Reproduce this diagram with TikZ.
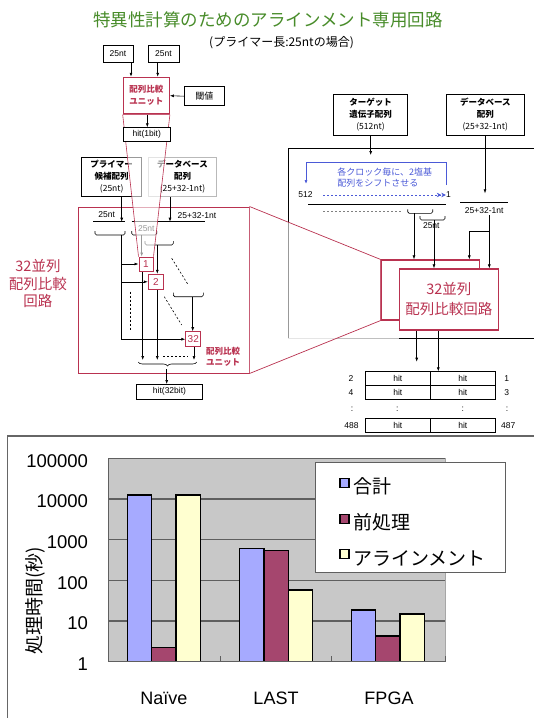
\documentclass[tikz,border=0pt]{standalone}
\usepackage{fontspec}
\setmainfont{Liberation Sans}
\newfontfamily\jp{Noto Sans CJK JP}
\usetikzlibrary{arrows.meta,decorations.pathreplacing,calc}
\definecolor{ttl}{RGB}{72,140,42}
\definecolor{rd}{RGB}{185,50,80}
\definecolor{bl}{RGB}{75,90,215}
\definecolor{barB}{RGB}{166,170,255}
\definecolor{barM}{RGB}{165,70,110}
\definecolor{barY}{RGB}{255,255,208}
\definecolor{plotbg}{RGB}{200,200,200}
\definecolor{grid}{RGB}{95,95,95}
\newcommand\fsz[2]{\fontsize{#1}{#2}\selectfont}
\newcommand\ubrk[3]{\draw[line width=0.6pt,rounded corners=1.5pt] (#1,#3-4) -- (#1,#3) -- (#2,#3) -- (#2,#3-4);}
\tikzset{
  arr/.style={-{Latex[length=4pt,width=3pt]}, line width=0.6pt},
  bx/.style={draw, line width=0.7pt, inner sep=0pt, align=center, fill=white, font=\jp\fsz{8.5}{12}},
  rbx/.style={draw=rd, line width=1pt, inner sep=0pt, fill=white, text=rd, font=\fsz{10}{11}},
  lbl/.style={inner sep=0pt, font=\fsz{8.5}{10}},
  dsh/.style={line width=0.6pt, dash pattern=on 2pt off 2pt},
  bar/.style={draw=black, line width=1.3pt},
  tick/.style={anchor=east, inner sep=0pt, font=\fsz{18.5}{20}},
}
\begin{document}
\begin{tikzpicture}[x=1pt,y=-1pt, line width=0.6pt]
\useasboundingbox (0,0) rectangle (534,718);

% ---------- title ----------
\node[inner sep=0pt, font=\jp\fsz{17.5}{20}, text=ttl] (title) at (268,20) {特異性計算のためのアラインメント専用回路};
\node[inner sep=0pt, font=\jp\fsz{12}{13}] (sub) at (281.5,43) {(プライマー長:25ntの場合)};

% ---------- left diagram, base layer ----------
\node[bx, minimum width=30pt, minimum height=17pt, font=\fsz{8.5}{10}] (a25) at (118,53.5) {25nt};
\node[bx, minimum width=31pt, minimum height=17pt, font=\fsz{8.5}{10}] (b25) at (163.5,53.5) {25nt};
\node[bx, minimum width=40pt, minimum height=19pt, font=\jp\fsz{9}{11}] (thr) at (204.3,96.2) {閾値};

\node[bx, minimum width=60pt, minimum height=39.4pt] (prim) at (111.7,177) {{\bfseries プライマー}\\{\bfseries 候補配列}\\(25nt)};
\node[bx, draw=gray!55, minimum width=68.4pt, minimum height=39.4pt] (dbl) at (182.5,177) {{\bfseries データベース}\\{\bfseries 配列}\\(25+32-1nt)};

\node[draw=rd, line width=1pt, minimum width=171pt, minimum height=166pt, inner sep=0pt] (bigL) at (163.5,290) {};

\coordinate (pl) at (121.7,221.7);
\coordinate (dl) at (170,221.7);
\draw[arr] (prim.south -| pl) -- (pl);
\draw[arr] (dbl.south -| dl) -- (dl);
\draw (93.3,221.7) -- (125,221.7);
\draw (131.7,221.7) -- (205,221.7);
\node[lbl] (l25a) at (106.7,215) {25nt};
\node[lbl] (l25b) at (197,215.5) {25+32-1nt};

\ubrk{95}{125}{235}
\ubrk{131.7}{156.7}{235}
\node[lbl] (l25c) at (146.3,228.5) {25nt};
\ubrk{145}{173.3}{245}
\ubrk{173.3}{203.3}{296.7}

\node[rbx, minimum width=14pt, minimum height=14pt] (b1) at (146,264) {1};
\node[rbx, minimum width=15pt, minimum height=15pt] (b2) at (155.8,281.8) {2};
\node[rbx, minimum width=15pt, minimum height=15pt] (b32) at (193.3,339.2) {32};

\coordinate (pb) at (121.7,235);
\coordinate (k2) at (141.7,235);
\coordinate (k3) at (157.3,245);
\coordinate (k4) at (192.7,296.7);
\draw[arr] (pb) |- (b32.west);
\draw[arr] (b1.west -| pb) -- (b1.west);
\draw[arr] (b2.west -| pb) -- (b2.west);
\draw[arr] (k2) -- (k2 |- b1.north);
\draw[arr] (k3) -- (k3 |- b2.north);
\draw[arr] (k4) -- (k4 |- b32.north);
\draw[dsh] (171.7,258.3) -- (188.3,285);
\draw[dsh] (164.3,296.7) -- (181.7,325);
\draw[dsh] (130,291.7) -- (130,330);

\coordinate (ob) at (0,360);
\coordinate (o1) at (142.7,0);
\coordinate (o2) at (157.3,0);
\coordinate (o3) at (194,0);
\draw[arr] (o1 |- b1.south) -- (o1 |- ob);
\draw[arr] (o2 |- b2.south) -- (o2 |- ob);
\draw[arr] (o3 |- b32.south) -- (o3 |- ob);
\draw[dsh] (163,356.7) -- (188,356.7);
\draw[decorate, decoration={brace, mirror, amplitude=4pt}] (138.3,362) -- (196.7,362);
\node[bx, minimum width=65.6pt, minimum height=14.7pt, font=\fsz{8.5}{10}] (h32) at (169.5,391.7) {hit(32bit)};
\coordinate (bt) at (166.7,369);
\draw[arr] (bt) -- (bt |- h32.north);

\node[inner sep=0pt, align=center, text=rd, font=\jp\bfseries\fsz{8.5}{11}] (ulbl) at (223,357) {配列比較\\ユニット};
\node[inner sep=0pt, align=center, text=rd, font=\jp\fsz{14.5}{17.5}] (llbl) at (38,283.5) {32並列\\配列比較\\回路};

% ---------- right diagram, base layer ----------
\node[bx, minimum width=74.4pt, minimum height=40.7pt] (tgt) at (370.5,114.7) {{\bfseries ターゲット}\\{\bfseries 遺伝子配列}\\(512nt)};
\node[bx, minimum width=77.3pt, minimum height=40.7pt] (dbr) at (485.3,114.7) {{\bfseries データベース}\\{\bfseries 配列}\\(25+32-1nt)};

\draw[line width=0.8pt] (540,148) -- (288.3,148) -- (288.3,338.3);
\draw[line width=0.8pt, gray!50] (288.3,338.3) -- (399,338.3);
\draw[line width=0.8pt] (399,338.3) -- (540,338.3);

\coordinate (ta) at (370.7,155);
\draw[arr] (tgt.south -| ta) -- (ta);
\draw[bl, line width=0.7pt, -{Latex[length=4pt,width=3pt]}] (446.7,185) -- (446.7,162.3) -- (306,162.3) -- (306,184);
\node[inner sep=0pt, align=left, text=bl, font=\jp\fsz{9}{10.5}, anchor=west] (shift) at (337,177.5) {各クロック毎に、2塩基\\配列をシフトさせる};
\node[lbl] (n512) at (305.5,195) {512};
\node[lbl] (n1) at (448.5,195) {1};
\draw[bl, dsh, -{Stealth[length=4.5pt,width=4.5pt]Stealth[length=4.5pt,width=4.5pt]}] (323,195) -- (n1.west);
\draw (308,204) -- (445.7,204);
\draw[dsh, gray] (323,211) -- (401.7,211);
\ubrk{407.7}{432.7}{213.3}
\ubrk{420}{445}{220}
\node[lbl] (l25d) at (431.3,226) {25nt};

\coordinate (da) at (485,193.3);
\draw[arr] (dbr.south -| da) -- (da);
\draw (460,202.7) -- (508.3,202.7);
\node[lbl] (l25e) at (484.2,211) {25+32-1nt};

% ---------- translucent zoom overlays ----------
\node[draw=rd, line width=1.2pt, minimum width=98.3pt, minimum height=60pt, inner sep=0pt] (back) at (430.2,290) {};
\fill[white, opacity=0.6] (bigL.north east) -- (back.north west) -- (back.south west) -- (bigL.south east) -- cycle;
\draw[rd, line width=0.7pt] (bigL.north east) -- (back.north west);
\draw[rd, line width=0.7pt] (bigL.south east) -- (back.south west);

\node[draw=rd, line width=1.2pt, fill=white, minimum width=46pt, minimum height=36.7pt, inner sep=0pt, align=center, text=rd, font=\jp\bfseries\fsz{8.5}{12}] (unit) at (146.3,95.7) {配列比較\\ユニット};
\fill[white, opacity=0.6] (unit.south west) -- (unit.south east) -- (b1.north east) -- (b1.north west) -- cycle;
\draw[rd, line width=0.6pt] (unit.south west) -- (b1.north west);
\draw[rd, line width=0.6pt] (unit.south east) -- (b1.north east);
\node[rbx, minimum width=14pt, minimum height=14pt] at (b1) {1};
\node[bx, minimum width=46.7pt, minimum height=13.3pt, font=\fsz{8.5}{10}] (h1) at (146.7,134.3) {hit(1bit)};

\coordinate (ua) at (131,0);
\coordinate (ub) at (157.7,0);
\coordinate (uc) at (147.3,0);
\draw[arr] (ua |- a25.south) -- (ua |- unit.north);
\draw[arr] (ub |- b25.south) -- (ub |- unit.north);
\draw[arr] (thr.west) -- (unit.east);
\draw[arr] (uc |- unit.south) -- (uc |- h1.north);

% right: front box and connections
\node[draw=rd, line width=1.2pt, fill=white, minimum width=99pt, minimum height=61pt, inner sep=0pt, align=center, text=rd, font=\jp\fsz{14.5}{20}] (front) at (448.8,299.5) {32並列\\配列比較回路};

\coordinate (ra) at (414,213.3);
\coordinate (rb) at (434,220);
\coordinate (rc) at (489.3,215);
\coordinate (rd1) at (469.3,231.7);
\draw[arr] (ra) -- (ra |- back.north);
\draw[arr] (rb) -- (rb |- front.north);
\draw[arr] (rc) -- (rc |- front.north);
\draw[arr] (rc |- rd1) -- (rd1) -- (rd1 |- back.north);

\node[bx, minimum width=65.7pt, minimum height=13.3pt, font=\fsz{8.5}{10}] (h11) at (397.85,378.35) {hit};
\node[bx, minimum width=64.3pt, minimum height=13.3pt, font=\fsz{8.5}{10}] (h12) at (462.85,378.35) {hit};
\node[bx, minimum width=65.7pt, minimum height=14pt, font=\fsz{8.5}{10}] (h21) at (397.85,392) {hit};
\node[bx, minimum width=64.3pt, minimum height=14pt, font=\fsz{8.5}{10}] (h22) at (462.85,392) {hit};
\node[bx, minimum width=65.7pt, minimum height=14.4pt, font=\fsz{8.5}{10}] (h41) at (397.85,425.5) {hit};
\node[bx, minimum width=64.3pt, minimum height=14.4pt, font=\fsz{8.5}{10}] (h42) at (462.85,425.5) {hit};
\coordinate (fa) at (416.7,361.7);
\coordinate (fb) at (438.3,0);
\draw[arr] (fa |- front.south) -- (fa);
\draw[arr] (fb |- front.south) -- (fb |- h12.north);
\node[lbl] (r2) at (351,378.3) {2};
\node[lbl] (r4) at (351,392.7) {4};
\node[lbl] (rd) at (352,409) {:};
\node[lbl] (r488) at (351.5,426) {488};
\node[lbl] (r1) at (506.7,378.3) {1};
\node[lbl] (r3) at (506.7,392.7) {3};
\node[lbl] (rdr) at (507,409) {:};
\node[lbl] (r487) at (508.3,426) {487};
\node[lbl] (cd1) at (397.3,409) {:};
\node[lbl] (cd2) at (462.7,409) {:};

% ---------- chart ----------
\draw[line width=1.3pt, gray!80!black] (540,436) -- (7.3,436) -- (7.3,725);
\fill[plotbg] (108.3,458.3) rectangle (445,661.7);
\foreach \yy in {621.0,580.3,539.6,499.0} {
  \draw[grid, line width=1.3pt] (108.3,\yy) -- (445,\yy);
}
\draw[grid, line width=1.3pt] (108.3,458.3) -- (445,458.3);
\draw[gray!70, line width=0.8pt] (445,458.3) -- (445,661.7);
\draw[grid, line width=0.8pt] (108.3,458.3) -- (108.3,661.7);

\foreach \x/\tb/\tm/\ty in {127.5/495/647.3/495, 239.7/548.3/550.7/590, 351.5/610/636/614} {
  \draw[bar, fill=barB] (\x,661.7) rectangle ++(24.3,\tb-661.7);
  \draw[bar, fill=barM] (\x+24.3,661.7) rectangle ++(24.3,\tm-661.7);
  \draw[bar, fill=barY] (\x+48.6,661.7) rectangle ++(24.3,\ty-661.7);
}
\draw[grid, line width=1.3pt] (108.3,661.7) -- (445,661.7);
\foreach \x in {108.3,220,331.7,445} { \draw[grid, line width=1pt] (\x,661.7) -- (\x,656); }

\node[tick] (t5) at (88.3,461) {100000};
\node[tick] (t4) at (88.3,501.5) {10000};
\node[tick] (t3) at (88.3,542.2) {1000};
\node[tick] (t2) at (88.3,582.8) {100};
\node[tick] (t1) at (88.3,623.5) {10};
\node[tick] (t0) at (88.3,664.2) {1};
\node[inner sep=0pt, rotate=90, font=\jp\fsz{19}{20}] (ylab) at (35,601) {処理時間(秒)};

\node[inner sep=0pt, font=\fsz{18}{20}] (xn) at (164,698.3) {Naïve};
\node[inner sep=0pt, font=\fsz{18}{20}] (xl) at (276,698.3) {LAST};
\node[inner sep=0pt, font=\fsz{18}{20}] (xf) at (389,698.3) {FPGA};

\draw[fill=white, draw=grid, line width=1pt] (315,462.3) rectangle (505.7,572.3);
\foreach \yy/\cc/\tt in {486.7/barB/合計, 522.7/barM/前処理, 558.3/barY/アラインメント} {
  \draw[fill=\cc, line width=1.2pt] (340,\yy-8.5) rectangle (349,\yy+0.5);
  \node[anchor=west, inner sep=0pt, font=\jp\fsz{19}{20}] at (353,\yy) {\tt};
}
\end{tikzpicture}
\end{document}
